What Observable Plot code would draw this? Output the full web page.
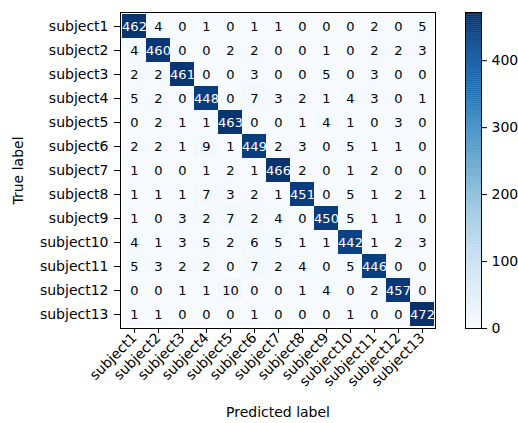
<!DOCTYPE html>
<html>
<head>
<meta charset="utf-8">
<script src="https://cdn.jsdelivr.net/npm/d3@7"></script>
<script src="https://cdn.jsdelivr.net/npm/@observablehq/plot@0.6"></script>
<style>
  html, body { margin: 0; padding: 0; background: #fff; }
  #wrap { position: relative; width: 518px; height: 423px; }
  #main { position: absolute; left: 0; top: 0; }
  #cbar { position: absolute; left: 440px; top: 0; }
</style>
</head>
<body>
<div id="wrap"><div id="main"></div><div id="cbar"></div></div>
<script>
const labels = ["subject1","subject2","subject3","subject4","subject5","subject6","subject7","subject8","subject9","subject10","subject11","subject12","subject13"];
const row1  = [462,4,0,1,0,1,1,0,0,0,2,0,5];
const row2  = [4,460,0,0,2,2,0,0,1,0,2,2,3];
const row3  = [2,2,461,0,0,3,0,0,5,0,3,0,0];
const row4  = [5,2,0,448,0,7,3,2,1,4,3,0,1];
const row5  = [0,2,1,1,463,0,0,1,4,1,0,3,0];
const row6  = [2,2,1,9,1,449,2,3,0,5,1,1,0];
const row7  = [1,0,0,1,2,1,466,2,0,1,2,0,0];
const row8  = [1,1,1,7,3,2,1,451,0,5,1,2,1];
const row9  = [1,0,3,2,7,2,4,0,450,5,1,1,0];
const row10 = [4,1,3,5,2,6,5,1,1,442,1,2,3];
const row11 = [5,3,2,2,0,7,2,4,0,5,446,0,0];
const row12 = [0,0,1,1,10,0,0,1,4,0,2,457,0];
const row13 = [1,1,0,0,0,1,0,0,0,1,0,0,472];
const rows = [row1,row2,row3,row4,row5,row6,row7,row8,row9,row10,row11,row12,row13];
const cbTicks = [0,100,200,300,400];

const table = [];
rows.forEach((r, i) => r.forEach((v, j) => table.push({t: labels[i], p: labels[j], v})));
const vmax = d3.max(table, d => d.v);
const font = {fontFamily: "'DejaVu Sans', sans-serif", fontSize: "14px", color: "#000", background: "#fff"};

const main = Plot.plot({
  width: 440, height: 423,
  marginLeft: 120, marginRight: 5, marginTop: 12, marginBottom: 95,
  style: font,
  x: {domain: labels, padding: 0},
  y: {domain: labels, padding: 0},
  color: {type: "linear", scheme: "blues", domain: [0, vmax]},
  marks: [
    Plot.cell(table, {x: "p", y: "t", fill: "v", inset: 0}),
    Plot.text(table, {x: "p", y: "t", text: "v", fontSize: 13,
      fill: d => d.v > vmax / 2 ? "white" : "black"}),
    Plot.frame({stroke: "black"}),
    Plot.axisX({anchor: "bottom", tickRotate: -45, tickSize: 5, tickPadding: 2, fontSize: 14,
      label: "Predicted label", labelAnchor: "center", labelArrow: "none", labelOffset: 88}),
    Plot.axisY({anchor: "left", tickSize: 6, tickPadding: 6, fontSize: 14,
      label: "True label", labelAnchor: "center", labelArrow: "none", labelOffset: 107})
  ]
});
document.getElementById("main").appendChild(main);

const steps = d3.range(0, vmax, 1);
const cbar = Plot.plot({
  width: 78, height: 423,
  marginLeft: 25, marginRight: 37, marginTop: 12, marginBottom: 95,
  style: font,
  y: {domain: [0, vmax]},
  color: {type: "linear", scheme: "blues", domain: [0, vmax]},
  marks: [
    Plot.rect(steps, {y1: d => d, y2: d => Math.min(d + 1.5, vmax), fill: d => d + 0.5}),
    Plot.frame({stroke: "black"}),
    Plot.axisY({anchor: "right", ticks: cbTicks, tickSize: 5, tickPadding: 5, fontSize: 14, label: null})
  ]
});
document.getElementById("cbar").appendChild(cbar);
</script>
</body>
</html>
